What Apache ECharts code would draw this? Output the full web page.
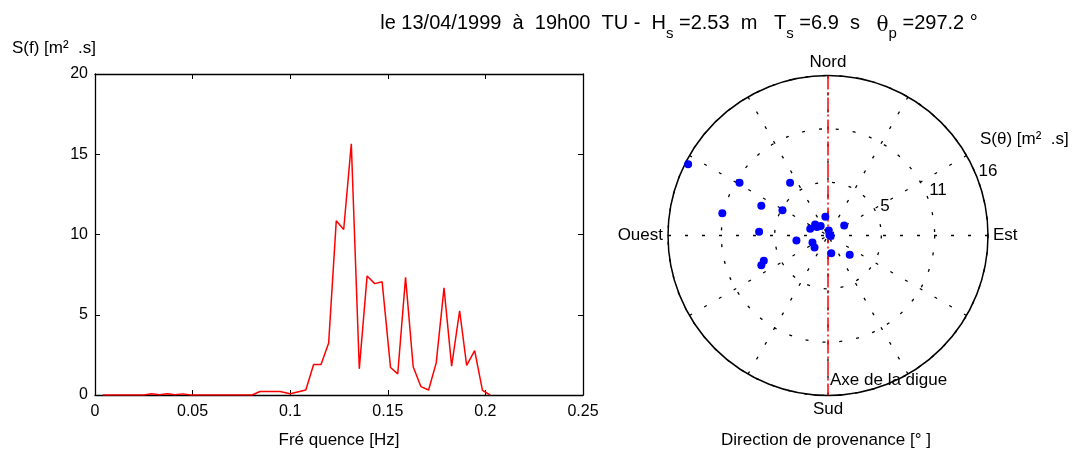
<!DOCTYPE html>
<html><head><meta charset="utf-8">
<script src="https://cdn.jsdelivr.net/npm/echarts@6/dist/echarts.min.js"></script>
<style>html,body{margin:0;padding:0;background:#fff}#c{width:1088px;height:455px}</style>
</head><body><div id="c"></div>
<script>
// Spectrum S(f)
const freq = [0.004, 0.025, 0.029, 0.033, 0.037, 0.041, 0.045, 0.049, 0.0805, 0.0845, 0.0948, 0.1, 0.108,
  0.112, 0.1158, 0.1197, 0.1236, 0.1274, 0.1313, 0.1354, 0.1394, 0.1433, 0.1471, 0.1514, 0.1551, 0.1591,
  0.163, 0.167, 0.1709, 0.1748, 0.1788, 0.1827, 0.1868, 0.1904, 0.1945, 0.1985, 0.2024];
const spec = [0, 0, 0.08, 0.02, 0.08, 0.02, 0.07, 0, 0, 0.22, 0.22, 0.08, 0.31,
  1.9, 1.9, 3.24, 10.85, 10.31, 15.65, 1.63, 7.42, 6.94, 7.05, 1.71, 1.32, 7.33,
  1.76, 0.52, 0.31, 2.0, 6.67, 1.8, 5.25, 1.84, 2.77, 0.29, 0];
// Directional points S(theta)
const dirAngle = [297.0, 300.8, 324.3, 281.9, 294.0, 298.9, 273.2, 352, 310.7, 290.7, 308, 322.5,
  58.5, 9, 70, 100, 260.8, 246, 228.4, 169.5, 131.5, 248.5, 246];
const dirS = [15.7, 10.3, 6.5, 10.8, 7.3, 5.2, 6.9, 1.9, 1.7, 1.9, 1.4, 1.2,
  1.9, 0.5, 0.15, 0.27, 3.2, 1.7, 1.8, 1.8, 2.9, 6.9, 7.3];
// Axis / labels
const freqMax = 0.25, freqStep = 0.05;
const specMax = 20, specStep = 5;
const polarMax = 16;
const ringLabels = ['5', '11', '16'];
const cardinal = {0: 'Nord', 90: 'Est', 180: 'Sud', 270: 'Ouest'};
const digueAxis = [[polarMax, 0], [polarMax, 180]];

const FONT = 'Liberation Sans, Arial, sans-serif';
const chart = echarts.init(document.getElementById('c'), null, {renderer: 'canvas'});

const tickStyle = {show: true, inside: true, length: 5, lineStyle: {color: '#000', width: 1}};
const lineStyle = {show: true, onZero: false, lineStyle: {color: '#000', width: 1.3}};
const dotted = {color: '#000', width: 1.3, type: [3, 14]};

chart.setOption({
  animation: false,
  backgroundColor: '#fff',
  textStyle: {fontFamily: FONT},
  grid: {left: 95, top: 74, width: 488, height: 321},
  xAxis: [{
    type: 'value', min: 0, max: freqMax, interval: freqStep,
    axisLine: lineStyle, axisTick: tickStyle, splitLine: {show: false},
    axisLabel: {color: '#000', fontSize: 16, fontFamily: FONT, margin: 9},
    name: 'Fré quence [Hz]', nameLocation: 'middle', nameGap: 37,
    nameTextStyle: {color: '#000', fontSize: 17, fontFamily: FONT}
  }, {
    type: 'value', min: 0, max: freqMax, interval: freqStep, position: 'top',
    axisLine: lineStyle, axisTick: tickStyle, axisLabel: {show: false}, splitLine: {show: false}
  }],
  yAxis: [{
    type: 'value', min: 0, max: specMax, interval: specStep,
    axisLine: lineStyle, axisTick: tickStyle, splitLine: {show: false},
    axisLabel: {color: '#000', fontSize: 16, fontFamily: FONT, margin: 7}
  }, {
    type: 'value', min: 0, max: specMax, interval: specStep, position: 'right',
    axisLine: lineStyle, axisTick: tickStyle, axisLabel: {show: false}, splitLine: {show: false}
  }],
  polar: {center: [828, 235.5], radius: 160},
  angleAxis: {
    type: 'value', min: 0, max: 360, interval: 30, startAngle: 90, clockwise: true,
    axisLine: {show: true, lineStyle: {color: '#000', width: 1.5}},
    axisTick: {show: false},
    splitLine: {show: true, lineStyle: dotted},
    axisLabel: {
      color: '#000', fontSize: 17, fontFamily: FONT, margin: 5,
      formatter: v => (v < 360 && cardinal[v]) ? cardinal[v] : ''
    }
  },
  radiusAxis: {
    type: 'value', min: 0, max: polarMax, interval: polarMax / 3,
    axisLine: {show: false}, axisTick: {show: false}, axisLabel: {show: false},
    splitLine: {show: true, lineStyle: dotted}
  },
  series: [{
    type: 'line', xAxisIndex: 0, yAxisIndex: 0, showSymbol: false,
    data: freq.map((f, i) => [f, spec[i]]),
    lineStyle: {color: '#ff0000', width: 1.5}, z: 3
  }, {
    type: 'line', coordinateSystem: 'polar', showSymbol: false,
    data: digueAxis,
    lineStyle: {color: '#ff0000', width: 1.5, type: [14, 3, 2, 3]}, z: 2
  }, {
    type: 'scatter', coordinateSystem: 'polar', symbol: 'circle', symbolSize: 8,
    itemStyle: {color: '#0000ff', opacity: 1},
    data: dirS.map((r, i) => [r, dirAngle[i]]), z: 4
  }],
  graphic: [
    {type: 'text', x: 679, y: 23, style: {
      text: '{n|le 13/04/1999  à  19h00  TU -  H}{s|s}{n| =2.53  m   T}{s|s}{n| =6.9  s   }{g|θ}{s|p}{n| =297.2 °}',
      align: 'center', verticalAlign: 'middle',
      rich: {
        n: {fontSize: 20, fontFamily: FONT, color: '#000'},
        g: {fontSize: 20, fontFamily: 'DejaVu Serif, serif', color: '#000', padding: [6, 0, 0, 0]},
        s: {fontSize: 15, fontFamily: FONT, color: '#000', padding: [22, 0, 0, 0]}
      }
    }},
    {type: 'text', x: 12, y: 48, style: {text: 'S(f) [m²  .s]', font: '17px ' + FONT, fill: '#000', verticalAlign: 'middle'}},
    {type: 'text', x: 980, y: 139, style: {text: 'S(θ) [m²  .s]', font: '17px ' + FONT, fill: '#000', verticalAlign: 'middle'}},
    {type: 'text', x: 885, y: 206, style: {text: ringLabels[0], font: '17px ' + FONT, fill: '#000', align: 'center', verticalAlign: 'middle'}},
    {type: 'text', x: 938, y: 190, style: {text: ringLabels[1], font: '17px ' + FONT, fill: '#000', align: 'center', verticalAlign: 'middle'}},
    {type: 'text', x: 988, y: 171, style: {text: ringLabels[2], font: '17px ' + FONT, fill: '#000', align: 'center', verticalAlign: 'middle'}},
    {type: 'text', x: 830, y: 380, style: {text: 'Axe de la digue', font: '17px ' + FONT, fill: '#000', verticalAlign: 'middle'}},
    {type: 'text', x: 826, y: 440, style: {text: 'Direction de provenance [° ]', font: '17px ' + FONT, fill: '#000', align: 'center', verticalAlign: 'middle'}}
  ]
});
</script></body></html>
